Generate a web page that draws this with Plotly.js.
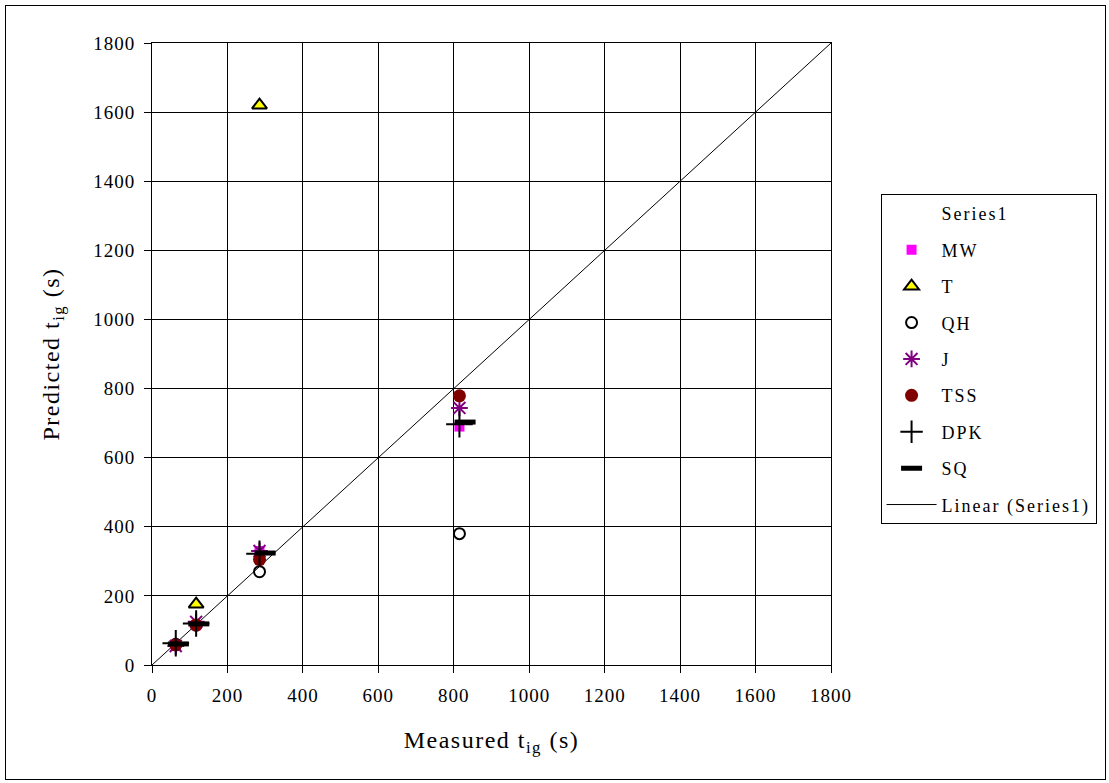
<!DOCTYPE html>
<html>
<head>
<meta charset="utf-8">
<script src="https://cdn.plot.ly/plotly-3.0.1.min.js"></script>
<style>
  body { margin: 0; background: #fff; }
  #frame { position: absolute; left: 5px; top: 5px; width: 1101px; height: 775px; border: 1px solid #000; box-sizing: border-box; }
  #chart { position: absolute; left: 0; top: 0; width: 1109px; height: 783px; }
  .legendtext { letter-spacing: 2px; }
  .xtick text, .ytick text { letter-spacing: 1px; }
  .g-xtitle text, .g-ytitle text { letter-spacing: 1.5px; }
</style>
</head>
<body>
<div id="frame"></div>
<div id="chart"></div>
<script>
// Measured ignition times (s)
const measured = [63, 117, 285, 815];

// Predicted ignition times (s) per model
const mwX = [63, 117, 285, 815];
const mwY = [55, 115, 330, 690];
const tX = [117, 285];
const tY = [176, 1620];
const qhX = [63, 117, 285, 815];
const qhY = [60, 115, 270, 380];
const jX = [63, 117, 285, 815];
const jY = [55, 125, 330, 744];
const tssX = [63, 117, 285, 815];
const tssY = [58, 116, 305, 779];
const dpkX = [63, 117, 285, 815];
const dpkY = [63, 120, 322, 697];
const sqX = [70, 124, 300, 830];
const sqY = [61, 119, 324, 703];

const series1X = [0, 1800];
const series1Y = [0, 1800];
const linearX = [0, 1800];
const linearY = [0, 1800];

const tickVals = [0, 200, 400, 600, 800, 1000, 1200, 1400, 1600, 1800];

const traces = [
  { x: series1X, y: series1Y, name: 'Series1', mode: 'markers', legendgroup: 'g0', legendrank: 0,
    marker: { size: 1, color: 'rgba(0,0,0,0)' }, hoverinfo: 'skip' },
  { x: linearX, y: linearY, name: 'Linear (Series1)', mode: 'lines', legendgroup: 'g9', legendrank: 1000,
    line: { color: '#000', width: 1 }, showlegend: true },
  { x: qhX, y: qhY, name: 'QH', mode: 'markers', legendgroup: 'g3', legendrank: 3,
    marker: { symbol: 'circle-open', size: 11, color: '#000', line: { width: 2, color: '#000' } } },
  { x: mwX, y: mwY, name: 'MW', mode: 'markers', legendgroup: 'g1', legendrank: 1,
    marker: { symbol: 'square', size: 10, color: '#ff00ff', line: { width: 0 } } },
  { x: jX, y: jY, name: 'J', mode: 'markers', legendgroup: 'g4', legendrank: 4,
    marker: { symbol: 'asterisk-open', size: 14, color: '#800080', line: { width: 2, color: '#800080' } } },
  { x: tssX, y: tssY, name: 'TSS', mode: 'markers', legendgroup: 'g5', legendrank: 5,
    marker: { symbol: 'circle', size: 13, color: '#800000', line: { width: 0 } } },
  { x: dpkX, y: dpkY, name: 'DPK', mode: 'markers', legendgroup: 'g6', legendrank: 6,
    marker: { symbol: 'cross-thin-open', size: 19, color: '#000', line: { width: 2, color: '#000' } } },
  { x: sqX, y: sqY, name: 'SQ', mode: 'markers', legendgroup: 'g7', legendrank: 7,
    marker: { symbol: 'line-ew-open', size: 15, color: '#000', line: { width: 5, color: '#000' } } },
  { x: tX, y: tY, name: 'T', mode: 'markers', legendgroup: 'g2', legendrank: 2,
    marker: { symbol: 'triangle-up', size: 13, color: '#ffff00', line: { width: 2, color: '#000' } } }
];

const axisCommon = {
  range: [0, 1800],
  tickvals: tickVals,
  ticktext: tickVals.map(String),
  showgrid: true,
  gridcolor: '#000',
  gridwidth: 1,
  showline: true,
  linecolor: '#000',
  linewidth: 1,
  mirror: true,
  ticks: 'outside',
  ticklen: 7,
  tickcolor: '#000',
  zeroline: false,
  tickfont: { family: 'Liberation Serif, Times New Roman, serif', size: 19, color: '#000' },
  automargin: false,
  fixedrange: true
};

const layout = {
  width: 1109,
  height: 783,
  margin: { l: 152, r: 276, t: 43, b: 118 },
  paper_bgcolor: 'rgba(0,0,0,0)',
  plot_bgcolor: '#fff',
  font: { family: 'Liberation Serif, Times New Roman, serif', color: '#000' },
  xaxis: Object.assign({}, axisCommon, {
    ticklabelstandoff: 6,
    title: { text: 'Measured t<sub>ig</sub> (s)', font: { size: 24, family: 'Liberation Serif, serif', color: '#000' }, standoff: 26 }
  }),
  yaxis: Object.assign({}, axisCommon, {
    ticklabelstandoff: 5,
    title: { text: 'Predicted t<sub>ig</sub> (s)', font: { size: 24, family: 'Liberation Serif, serif', color: '#000' }, standoff: 26 }
  }),
  showlegend: true,
  legend: {
    x: 1.073, y: 0.757, xanchor: 'left', yanchor: 'top',
    bordercolor: '#000', borderwidth: 1, bgcolor: '#fff',
    font: { size: 18, family: 'Liberation Serif, serif', color: '#000' },
    traceorder: 'grouped',
    tracegroupgap: 10,
    itemwidth: 50
  }
};

Plotly.newPlot('chart', traces, layout, { displayModeBar: false, staticPlot: true });
</script>
</body>
</html>
